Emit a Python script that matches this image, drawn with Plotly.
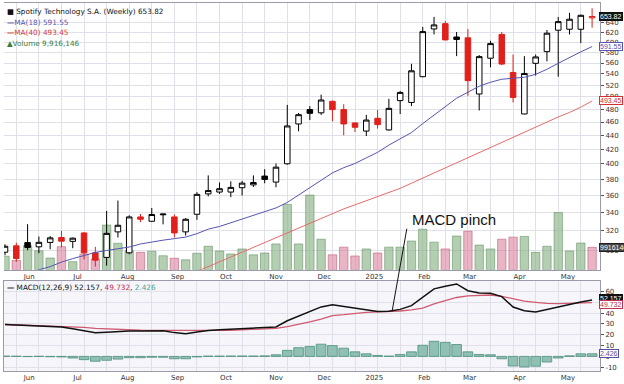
import plotly.graph_objects as go
import pandas as pd
import math

weeks = pd.date_range("2024-05-17", periods=53, freq="7D")

opens = [298, 304.4, 307.7, 303.4, 307.9, 313, 309, 317.8, 297.4, 292.9,
         318.9, 297.4, 335.2, 330.4, 337.6, 335.2, 318.9, 338.2, 362, 364.2,
         364.2, 369.5, 373, 384.1, 376.5, 400.2, 457, 479.4, 474.3, 492.8,
         479.4, 458.6, 446.3, 465.7, 448, 494, 491, 535, 627.3, 638.5,
         610.7, 609, 505, 569, 616, 542.6, 472.5, 559.4, 581.6, 624.7,
         626.7, 626.7, 651]
highs = [306, 307.7, 327.2, 314, 314.5, 320, 313, 318.5, 303.4, 342,
         354, 337, 338.5, 345.4, 338.8, 338, 334, 364, 385, 376,
         377.5, 378, 385, 393, 400.6, 487, 474, 485, 504, 494,
         488, 459, 471, 479, 497, 510, 558.5, 631.6, 653, 644,
         621, 627, 575, 603, 621, 576, 573, 576, 625, 653,
         662, 658, 672]
lows = [295, 288.6, 300, 297, 301, 303, 302, 291, 284, 285,
        313, 296, 329.5, 330, 327, 313, 315, 332, 359, 362,
        358, 360, 370.5, 375, 370, 399, 446, 463, 471, 461,
        440, 445, 439, 450, 447, 472.5, 485, 534, 616, 604,
        573, 502, 478, 552, 556, 491, 472, 537, 563, 535,
        616, 598.5, 630]
closes = [304, 291.8, 302.8, 308, 312.6, 309.2, 312.3, 297.4, 290.2, 317.3,
          326, 335.2, 332.6, 337.9, 338.4, 317.8, 332.6, 361.4, 366, 368.3,
          369.9, 375.2, 376, 379.9, 395.7, 454, 471.4, 473.5, 495, 479.4,
          457, 452, 463, 456, 481.4, 507.7, 545.6, 621.8, 635.8, 604.8,
          605.7, 528, 572, 597.4, 558, 499.3, 540.8, 571.4, 618.5, 642.8,
          648, 656.5, 653.82]
volume = [6.0e6, 4.1e6, 10.6e6, 8.4e6, 5.2e6, 10.2e6, 3.6e6, 7.0e6, 4.8e6, 19.7e6,
          11.7e6, 8.4e6, 7.7e6, 8.2e6, 6.2e6, 5.1e6, 4.4e6, 7.3e6, 10.4e6, 8.3e6,
          7.0e6, 9.2e6, 6.6e6, 7.4e6, 11.4e6, 28.8e6, 11.4e6, 32.9e6, 13.5e6, 6.6e6,
          10.0e6, 6.1e6, 9.2e6, 7.4e6, 10.0e6, 10.0e6, 12.7e6, 17.9e6, 12.2e6, 9.2e6,
          14.9e6, 17.0e6, 10.9e6, 9.2e6, 13.5e6, 14.4e6, 14.7e6, 7.7e6, 10.4e6, 25.2e6,
          8.3e6, 11.8e6, 9916146]
ma18 = [None, None, 277, 281, 284, 288.3, 291.7, 295, 297.8, 299.7,
        301.2, 303.2, 306.3, 308.6, 310.2, 311.8, 313.4, 317, 321.8, 324.7,
        328.6, 332.5, 336.5, 340.5, 345.4, 351.8, 360.6, 369.5, 379.1, 388.2,
        395, 400.6, 408.2, 415.7, 425.9, 434.6, 444.1, 457.6, 470.7, 484.2,
        498, 508, 518.3, 525.2, 530.5, 532.2, 534, 539.2, 548.4, 559.4,
        570.7, 581.2, 591.55]
ma40 = [None, None, None, None, None, None, None, None, None, None,
        None, None, None, None, None, None, None, 279.5, 284, 288.6,
        293.3, 298, 302.9, 307.7, 312.8, 317.8, 323.1, 328.3, 333.5, 339,
        344.3, 349, 353.9, 358.8, 363.8, 368.7, 375.1, 381.6, 388, 394.8,
        401.6, 408.6, 415.4, 422.5, 429.8, 437.5, 445, 452.4, 460, 467.8,
        474.9, 483.3, 493.45]
macd = [29.5, 29.0, 28.6, 28.2, 27.8, 27.2, 25.5, 23.5, 21.9, 22.3,
        23.0, 23.4, 23.6, 23.8, 23.8, 22.0, 21.0, 22.6, 24.0, 24.6,
        25.1, 25.5, 26.0, 26.6, 27.3, 33.0, 37.5, 42.0, 45.8, 47.8,
        46.2, 44.5, 43.0, 41.6, 41.7, 43.5, 47.0, 55.0, 62.5, 64.8,
        67.0, 60.8, 58.6, 58.5, 55.3, 45.7, 42.3, 41.1, 43.4, 45.9,
        48.4, 50.4, 52.157]
signal = [29.5, 29.2, 28.9, 28.6, 28.3, 28.0, 27.6, 26.8, 25.9, 25.4,
          24.9, 24.5, 24.2, 24.1, 24.0, 24.0, 23.9, 23.8, 23.8, 24.0,
          24.2, 24.5, 25.0, 25.4, 25.9, 27.5, 29.4, 32.0, 34.5, 37.8,
          38.6, 40.0, 40.8, 41.2, 41.5, 42.0, 43.0, 44.7, 48.5, 51.8,
          54.5, 56.0, 56.6, 56.8, 55.5, 53.2, 51.2, 50.0, 49.0, 48.8,
          49.0, 49.4, 49.732]
hist = [0.3, 0.2, -0.2, 0.1, -0.3, -0.5, -1.5, -3.0, -4.5, -3.6,
        -2.5, -1.2, -1.2, -0.8, -0.8, -2.2, -2.2, -0.5, 0.3, 0.3,
        0.4, 0.4, 0.4, 0.5, 1.5, 5.6, 8.1, 9.1, 11.3, 10.0,
        7.6, 4.2, 2.4, 0.9, 0.3, 1.8, 4.2, 10.3, 14.0, 13.0,
        11.0, 4.2, 1.8, 1.5, -2.2, -8.9, -9.8, -9.1, -5.2, -1.5,
        0.5, 2.4, 2.426]

month_ticks = ["2024-06-01", "2024-07-01", "2024-08-01", "2024-09-01", "2024-10-01",
               "2024-11-01", "2024-12-01", "2025-01-01", "2025-02-01", "2025-03-01",
               "2025-04-01", "2025-05-01"]
month_labels = ["Jun", "Jul", "Aug", "Sep", "Oct", "Nov", "Dec", "2025", "Feb", "Mar", "Apr", "May"]
price_ticks = [300, 320, 340, 360, 380, 400, 420, 440, 460, 480, 500, 520, 540, 560, 580, 600, 620, 640]
macd_ticks = [-10, 0, 10, 20, 30, 40, 50, 60]

BLACK = "#000000"
RED = "#e0201c"
BLUE = "#5555b0"
MARED = "#e86a6a"
GREEN_V = "rgba(140,180,135,0.65)"
PINK_V = "rgba(215,120,150,0.55)"
FONT = "DejaVu Sans"
NFONT = "Liberation Sans"

up_idx, dn_idx = [], []
for i in range(len(closes)):
    prev = closes[i - 1] if i > 0 else opens[i]
    (up_idx if closes[i] >= prev else dn_idx).append(i)

def pick(arr, idx):
    return [arr[i] for i in idx]

vol_colors = [GREEN_V if i in up_idx else PINK_V for i in range(len(closes))]
vol_lines = ["rgba(90,140,90,0.9)" if i in up_idx else "rgba(190,80,110,0.9)" for i in range(len(closes))]

fig = go.Figure()

fig.add_trace(go.Bar(x=weeks, y=volume, marker=dict(color=vol_colors, line=dict(color=vol_lines, width=0.6)),
                     width=5.2 * 86400000, xaxis="x", yaxis="y", showlegend=False))

fig.add_trace(go.Scatter(x=weeks, y=ma40, mode="lines", line=dict(color=MARED, width=1),
                         xaxis="x", yaxis="y3", showlegend=False, connectgaps=False))
fig.add_trace(go.Scatter(x=weeks, y=ma18, mode="lines", line=dict(color=BLUE, width=1),
                         xaxis="x", yaxis="y3", showlegend=False, connectgaps=False))

fig.add_trace(go.Candlestick(
    x=pick(weeks, up_idx), open=pick(opens, up_idx), high=pick(highs, up_idx),
    low=pick(lows, up_idx), close=pick(closes, up_idx),
    increasing=dict(line=dict(color=BLACK, width=1), fillcolor="white"),
    decreasing=dict(line=dict(color=BLACK, width=1), fillcolor=BLACK),
    whiskerwidth=0, xaxis="x", yaxis="y3", showlegend=False))
fig.add_trace(go.Candlestick(
    x=pick(weeks, dn_idx), open=pick(opens, dn_idx), high=pick(highs, dn_idx),
    low=pick(lows, dn_idx), close=pick(closes, dn_idx),
    increasing=dict(line=dict(color=RED, width=1), fillcolor="white"),
    decreasing=dict(line=dict(color=RED, width=1), fillcolor=RED),
    whiskerwidth=0, xaxis="x", yaxis="y3", showlegend=False))

fig.add_trace(go.Bar(x=weeks, y=hist, marker=dict(color="#8fc0b2", line=dict(color="#4e8f80", width=0.8)),
                     width=6 * 86400000, xaxis="x2", yaxis="y2", showlegend=False))
fig.add_trace(go.Scatter(x=weeks, y=signal, mode="lines", line=dict(color="#d05a70", width=1.3),
                         xaxis="x2", yaxis="y2", showlegend=False))
fig.add_trace(go.Scatter(x=weeks, y=macd, mode="lines", line=dict(color="#111111", width=1.5),
                         xaxis="x2", yaxis="y2", showlegend=False))

xr = ["2024-05-16 09:00", "2025-05-20 21:30"]
grid = "#e0e0ea"
axfont = dict(family=FONT, size=7, color="#333")
minor_grid = dict(showgrid=True, gridcolor=grid, gridwidth=1, tick0=weeks[1], dtick=14 * 86400000, ticks="")

fig.update_layout(
    width=624, height=384,
    margin=dict(l=4, r=24, t=2, b=11),
    paper_bgcolor="white", plot_bgcolor="white",
    bargap=0, barmode="overlay",
    xaxis=dict(domain=[0, 1], range=xr, type="date", anchor="y",
               tickvals=month_ticks, ticktext=month_labels, tickfont=axfont,
               showgrid=False, ticks="", ticklen=0, minor=minor_grid,
               showline=True, linecolor="#9a9aa8", mirror=True, rangeslider=dict(visible=False)),
    yaxis=dict(domain=[0.2749, 1], range=[0, 117.5e6], showgrid=False, showticklabels=False,
               zeroline=False, showline=False, fixedrange=True),
    yaxis3=dict(overlaying="y", side="right", type="log", anchor="x",
                range=[math.log10(281), math.log10(684)],
                tickvals=price_ticks, ticktext=[str(t) for t in price_ticks], tickfont=axfont,
                showgrid=True, gridcolor=grid, ticks="outside", ticklen=3, tickcolor="#555",
                showline=True, linecolor="#9a9aa8", zeroline=False),
    xaxis2=dict(domain=[0, 1], range=xr, type="date", anchor="y2", matches="x",
                tickvals=month_ticks, ticktext=month_labels, tickfont=axfont,
                showgrid=False, ticks="", minor=minor_grid,
                showline=True, linecolor="#9a9aa8", mirror=True),
    yaxis2=dict(domain=[0, 0.2453], range=[-13.5, 70], side="right", anchor="x2",
                tickvals=macd_ticks, ticktext=[str(t) for t in macd_ticks], tickfont=axfont,
                showgrid=True, gridcolor=grid, ticks="outside", ticklen=3, tickcolor="#555",
                showline=True, linecolor="#9a9aa8", mirror=True, zeroline=False),
)

fig.add_shape(type="rect", xref="x2 domain", yref="y2 domain", x0=0, x1=1, y0=0, y1=1,
              fillcolor="#f6f6fa", line=dict(width=0), layer="below")

def box(text, yval, yref, fg, bg, border):
    fig.add_annotation(x=1, xref="paper", y=yval, yref=yref, text=text, showarrow=False,
                       xanchor="left", yanchor="middle", xshift=-1,
                       font=dict(family=NFONT, size=7, color=fg), bgcolor=bg,
                       bordercolor=border, borderwidth=1, borderpad=0)

box("653.82", math.log10(closes[-1]), "y3", "white", "#111", "#111")
box("591.55", math.log10(ma18[-1]), "y3", BLUE, "white", BLUE)
box("493.45", math.log10(ma40[-1]), "y3", "#d03030", "white", "#d03030")
box("9916146", volume[-1], "y", "white", "#444", "#222")
box("52.157", macd[-1] + 1.5, "y2", "white", "#111", "#111")
box("49.732", signal[-1] - 1.5, "y2", "#c03050", "white", "#c03050")
box("2.426", hist[-1], "y2", "#5050a0", "white", "#5050a0")

legend_lines = [
    ("<b>&#9632;</b> Spotify Technology S.A. (Weekly) 653.82", "#111", 0.995),
    ("<b>&#8212;</b>MA(18) 591.55", BLUE, 0.966),
    ("<b>&#8212;</b>MA(40) 493.45", "#d83a3a", 0.937),
    ("&#9650;Volume 9,916,146", "#3a7d3a", 0.908),
]
for txt, col, yy in legend_lines:
    fig.add_annotation(x=0.002, y=yy, xref="paper", yref="paper", text=txt, showarrow=False,
                       xanchor="left", yanchor="top", font=dict(family=FONT, size=7.3, color=col))

fig.add_annotation(x=0.002, y=0.2453, xref="paper", yref="paper",
                   text="<b>&#8212;</b> MACD(12,26,9) 52.157, <span style='color:#c03050'>49.732</span>, "
                        "<span style='color:#4e9f90'>2.426</span>",
                   showarrow=False, xanchor="left", yanchor="top",
                   font=dict(family=FONT, size=7.3, color="#111"))

fig.add_annotation(x=0.682, y=0.411, xref="paper", yref="paper", text="MACD pinch", showarrow=False,
                   xanchor="left", yanchor="middle", font=dict(family="Liberation Sans", size=15, color="#111"))
fig.add_annotation(x="2025-01-12", y=41.8, xref="x2", yref="y2", text="", showarrow=True,
                   arrowhead=0, arrowwidth=1, arrowcolor="#111", ax=15, ay=-84)

fig.write_html("out.html", config={"displayModeBar": False, "staticPlot": True},
               post_script="document.body.style.margin='0';document.body.style.padding='0';"
                           "document.body.style.overflow='hidden';")
